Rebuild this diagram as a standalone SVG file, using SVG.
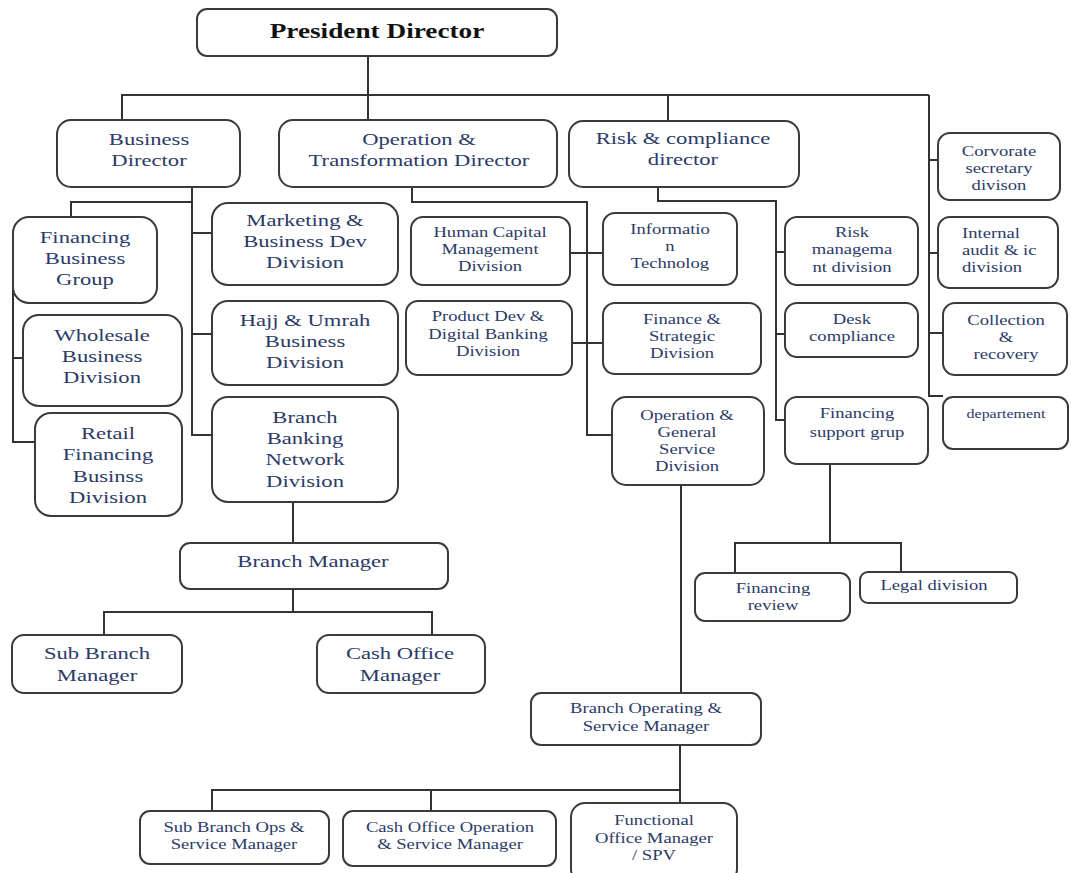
<svg xmlns="http://www.w3.org/2000/svg" width="1071" height="873" viewBox="0 0 1071 873">
<style>
.box{fill:#fff;stroke:#3a3a3a;stroke-width:2}
.ln{fill:none;stroke:#333;stroke-width:2}
text{font-family:"Liberation Serif","Times New Roman",serif;fill:#2b3a67;text-anchor:middle}
.t20{font-size:20.5px;font-weight:bold;fill:#111}
.t17{font-size:17px}
.t14{font-size:14px}
.t12{font-size:12px}
.st{text-anchor:start}
</style>
<rect width="1071" height="873" fill="#fff"/>
<g id="connectors">
<path class="ln" d="M368,56 V120"/>
<path class="ln" d="M122,120 V95 H929"/>
<path class="ln" d="M668,95 V121"/>
<path class="ln" d="M929,95 V396 H943"/>
<path class="ln" d="M929,160 H938 M929,253 H938 M929,333 H943"/>
<path class="ln" d="M192,187 V202 H71 V217"/>
<path class="ln" d="M192,202 V435 H212 M192,233 H212 M192,334 H212"/>
<path class="ln" d="M13,288 V442 H35 M13,358 H23"/>
<path class="ln" d="M412,187 V202 H587 V435 H612"/>
<path class="ln" d="M570,253 H603 M572,343 H603"/>
<path class="ln" d="M658,187 V201 H776 V420 H785 M776,252 H785 M776,334 H785"/>
<path class="ln" d="M830,464 V543 M735,573 V543 H901 V572"/>
<path class="ln" d="M293,502 V543 M293,589 V612 M104,635 V612 H432 V635"/>
<path class="ln" d="M681,485 V693"/>
<path class="ln" d="M680,745 V803 M212,811 V790 H680 M431,790 V811"/>
</g>
<g id="president"><rect class="box" x="197" y="9" width="360" height="47" rx="10"/>
<text class="t20" transform="translate(377 38) scale(1.33 1)">President Director</text></g>
<g id="business-director"><rect class="box" x="57" y="120" width="183" height="67" rx="14"/>
<text class="t17" transform="translate(149 145) scale(1.33 1)"><tspan x="0">Business</tspan><tspan x="0" dy="21">Director</tspan></text></g>
<g id="operation-director"><rect class="box" x="279" y="120" width="278" height="67" rx="14"/>
<text class="t17" transform="translate(419 145) scale(1.33 1)"><tspan x="0">Operation &amp;</tspan><tspan x="0" dy="21">Transformation Director</tspan></text></g>
<g id="risk-director"><rect class="box" x="569" y="121" width="230" height="66" rx="14"/>
<text class="t17" transform="translate(683 144) scale(1.33 1)"><tspan x="0">Risk &amp; compliance</tspan><tspan x="0" dy="21">director</tspan></text></g>
<g id="corporate-secretary"><rect class="box" x="938" y="133" width="122" height="67" rx="12"/>
<text class="t14" transform="translate(999 156) scale(1.33 1)"><tspan x="0">Corvorate</tspan><tspan x="0" dy="17">secretary</tspan><tspan x="0" dy="17">divison</tspan></text></g>
<g id="internal-audit"><rect class="box" x="938" y="217" width="120" height="71" rx="12"/>
<text class="t14 st" transform="translate(962 238) scale(1.33 1)"><tspan x="0">Internal</tspan><tspan x="0" dy="17">audit &amp; ic</tspan><tspan x="0" dy="17">division</tspan></text></g>
<g id="collection"><rect class="box" x="943" y="303" width="124" height="72" rx="12"/>
<text class="t14" transform="translate(1006 325) scale(1.33 1)"><tspan x="0">Collection</tspan><tspan x="0" dy="17">&amp;</tspan><tspan x="0" dy="17">recovery</tspan></text></g>
<g id="departement"><rect class="box" x="943" y="397" width="125" height="52" rx="10"/>
<text class="t12" transform="translate(1006 418) scale(1.33 1)">departement</text></g>
<g id="risk-management"><rect class="box" x="785" y="217" width="133" height="68" rx="12"/>
<text class="t14" transform="translate(852 237) scale(1.33 1)"><tspan x="0">Risk</tspan><tspan x="0" dy="17.5">managema</tspan><tspan x="0" dy="17.5">nt division</tspan></text></g>
<g id="desk-compliance"><rect class="box" x="785" y="303" width="133" height="54" rx="12"/>
<text class="t14" transform="translate(852 324) scale(1.33 1)"><tspan x="0">Desk</tspan><tspan x="0" dy="17">compliance</tspan></text></g>
<g id="financing-support"><rect class="box" x="785" y="397" width="143" height="67" rx="12"/>
<text class="t14" transform="translate(857 418) scale(1.33 1)"><tspan x="0">Financing</tspan><tspan x="0" dy="19">support grup</tspan></text></g>
<g id="human-capital"><rect class="box" x="411" y="217" width="159" height="68" rx="12"/>
<text class="t14" transform="translate(490 237) scale(1.33 1)"><tspan x="0">Human Capital</tspan><tspan x="0" dy="17.5">Management</tspan><tspan x="0" dy="17">Division</tspan></text></g>
<g id="information-technology"><rect class="box" x="603" y="213" width="134" height="72" rx="12"/>
<text class="t14" transform="translate(670 234) scale(1.33 1)"><tspan x="0">Informatio</tspan><tspan x="0" dy="17.5">n</tspan><tspan x="0" dy="17">Technolog</tspan></text></g>
<g id="product-dev"><rect class="box" x="406" y="301" width="166" height="74" rx="12"/>
<text class="t14" transform="translate(488 321) scale(1.33 1)"><tspan x="0">Product Dev &amp;</tspan><tspan x="0" dy="18">Digital Banking</tspan><tspan x="0" dy="17">Division</tspan></text></g>
<g id="finance-strategic"><rect class="box" x="603" y="303" width="158" height="71" rx="12"/>
<text class="t14" transform="translate(682 324) scale(1.33 1)"><tspan x="0">Finance &amp;</tspan><tspan x="0" dy="17.5">Strategic</tspan><tspan x="0" dy="16.5">Division</tspan></text></g>
<g id="operation-general"><rect class="box" x="612" y="397" width="152" height="88" rx="14"/>
<text class="t14" transform="translate(687 420) scale(1.33 1)"><tspan x="0">Operation &amp;</tspan><tspan x="0" dy="17">General</tspan><tspan x="0" dy="17">Service</tspan><tspan x="0" dy="17">Division</tspan></text></g>
<g id="financing-business-group"><rect class="box" x="13" y="217" width="144" height="86" rx="16"/>
<text class="t17" transform="translate(85 243) scale(1.33 1)"><tspan x="0">Financing</tspan><tspan x="0" dy="21">Business</tspan><tspan x="0" dy="21">Group</tspan></text></g>
<g id="wholesale"><rect class="box" x="23" y="315" width="159" height="91" rx="16"/>
<text class="t17" transform="translate(102 341) scale(1.33 1)"><tspan x="0">Wholesale</tspan><tspan x="0" dy="21">Business</tspan><tspan x="0" dy="21">Division</tspan></text></g>
<g id="retail"><rect class="box" x="35" y="413" width="147" height="103" rx="16"/>
<text class="t17" transform="translate(108 439) scale(1.33 1)"><tspan x="0">Retail</tspan><tspan x="0" dy="21.5">Financing</tspan><tspan x="0" dy="21.5">Businss</tspan><tspan x="0" dy="21">Division</tspan></text></g>
<g id="marketing"><rect class="box" x="212" y="203" width="186" height="82" rx="16"/>
<text class="t17" transform="translate(305 226) scale(1.33 1)"><tspan x="0">Marketing &amp;</tspan><tspan x="0" dy="21.5">Business Dev</tspan><tspan x="0" dy="21">Division</tspan></text></g>
<g id="hajj-umrah"><rect class="box" x="212" y="301" width="186" height="84" rx="16"/>
<text class="t17" transform="translate(305 326) scale(1.33 1)"><tspan x="0">Hajj &amp; Umrah</tspan><tspan x="0" dy="21">Business</tspan><tspan x="0" dy="21">Division</tspan></text></g>
<g id="branch-banking"><rect class="box" x="212" y="397" width="186" height="105" rx="16"/>
<text class="t17" transform="translate(305 423) scale(1.33 1)"><tspan x="0">Branch</tspan><tspan x="0" dy="21">Banking</tspan><tspan x="0" dy="21">Network</tspan><tspan x="0" dy="22">Division</tspan></text></g>
<g id="branch-manager"><rect class="box" x="180" y="543" width="268" height="46" rx="10"/>
<text class="t17" transform="translate(313 567) scale(1.33 1)">Branch Manager</text></g>
<g id="sub-branch-manager"><rect class="box" x="12" y="635" width="170" height="58" rx="12"/>
<text class="t17" transform="translate(97 659) scale(1.33 1)"><tspan x="0">Sub Branch</tspan><tspan x="0" dy="22">Manager</tspan></text></g>
<g id="cash-office-manager"><rect class="box" x="317" y="635" width="168" height="58" rx="12"/>
<text class="t17" transform="translate(400 659) scale(1.33 1)"><tspan x="0">Cash Office</tspan><tspan x="0" dy="22">Manager</tspan></text></g>
<g id="financing-review"><rect class="box" x="695" y="573" width="155" height="48" rx="10"/>
<text class="t14" transform="translate(773 593) scale(1.33 1)"><tspan x="0">Financing</tspan><tspan x="0" dy="17">review</tspan></text></g>
<g id="legal-division"><rect class="box" x="860" y="572" width="157" height="31" rx="8"/>
<text class="t14" transform="translate(934 590) scale(1.33 1)">Legal division</text></g>
<g id="branch-operating"><rect class="box" x="531" y="693" width="230" height="52" rx="10"/>
<text class="t14" transform="translate(646 713) scale(1.33 1)"><tspan x="0">Branch Operating &amp;</tspan><tspan x="0" dy="18">Service Manager</tspan></text></g>
<g id="sub-branch-ops"><rect class="box" x="140" y="811" width="189" height="53" rx="10"/>
<text class="t14" transform="translate(234 832) scale(1.33 1)"><tspan x="0">Sub Branch Ops &amp;</tspan><tspan x="0" dy="17.5">Service Manager</tspan></text></g>
<g id="cash-office-operation"><rect class="box" x="343" y="811" width="213" height="55" rx="10"/>
<text class="t14" transform="translate(450 832) scale(1.33 1)"><tspan x="0">Cash Office Operation</tspan><tspan x="0" dy="17.5">&amp; Service Manager</tspan></text></g>
<g id="functional-office"><rect class="box" x="571" y="803" width="166" height="80" rx="14"/>
<text class="t14" transform="translate(654 825) scale(1.33 1)"><tspan x="0">Functional</tspan><tspan x="0" dy="18">Office Manager</tspan><tspan x="0" dy="17">/ SPV</tspan></text></g>
</svg>
